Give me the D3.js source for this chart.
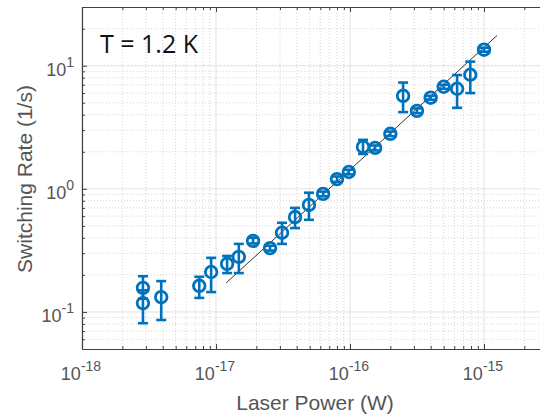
<!DOCTYPE html>
<html>
<head>
<meta charset="utf-8">
<script src="https://cdn.jsdelivr.net/npm/d3@7"></script>
<style>
  body { margin: 0; background: #fff; }
  svg { display: block; }
</style>
</head>
<body>
<svg id="chart" width="540" height="416"></svg>
<script>
// laser power (W) and switching rate (1/s), with error bar limits
var power = [2.85e-18, 2.85e-18, 3.9e-18, 7.5e-18, 9.2e-18, 1.21e-17, 1.48e-17, 1.89e-17,
             2.53e-17, 3.11e-17, 3.89e-17, 4.94e-17, 6.3e-17, 8.0e-17, 9.8e-17,
             1.25e-16, 1.54e-16, 2.0e-16, 2.49e-16, 3.16e-16, 4.0e-16, 5.0e-16,
             6.3e-16, 7.9e-16, 1.0e-15];
var rate = [0.157, 0.118, 0.132, 0.163, 0.211, 0.246, 0.28, 0.378,
            0.33, 0.44, 0.59, 0.74, 0.91, 1.2, 1.37,
            2.19, 2.15, 2.8, 5.7, 4.3, 5.5, 6.75,
            6.5, 8.45, 13.5];
var rateLow = [0.128, 0.081, 0.086, 0.13, 0.145, 0.207, 0.207, 0.36,
               0.315, 0.357, 0.48, 0.56, 0.87, 1.14, 1.31,
               1.92, 2.05, 2.68, 4.2, 4.12, 5.3, 6.5,
               4.55, 6.0, 13.0];
var rateHigh = [0.195, 0.15, 0.178, 0.193, 0.275, 0.285, 0.357, 0.4,
                0.345, 0.53, 0.70, 0.93, 0.95, 1.26, 1.43,
                2.5, 2.25, 2.92, 7.3, 4.5, 5.7, 7.0,
                8.4, 10.8, 14.0];
// linear fit (slope 1 on log-log)
var fitPower = [1.19e-17, 1.25e-15];
var fitRate = [0.172, 17.6];

var xTickExp = [-18, -17, -16, -15];
var yTickExp = [-1, 0, 1];

(function() {

    var svg = d3.select('#chart');
    var pLeft = 82, pTop = 7, pBottom = 349,
        pRight = 82 + 134 * 3.55;

    var x = d3.scaleLog().domain([1e-18, Math.pow(10, -14.45)]).range([pLeft, pRight]);
    var y = d3.scaleLog().domain([0.05, 30]).range([pBottom, pTop]);

    // minor values
    var xMinor = [], yMinor = [];
    d3.range(-18, -14).forEach(function(e) {
        d3.range(2, 10).forEach(function(m) { xMinor.push(m * Math.pow(10, e)); });
    });
    d3.range(-2, 2).forEach(function(e) {
        d3.range(2, 10).forEach(function(m) { yMinor.push(m * Math.pow(10, e)); });
    });
    xMinor = xMinor.filter(function(v) { return v > x.domain()[0] && v < x.domain()[1]; });
    yMinor = yMinor.filter(function(v) { return v > y.domain()[0] && v < y.domain()[1]; });
    var xMajor = xTickExp.map(function(e) { return Math.pow(10, e); });
    var yMajor = yTickExp.map(function(e) { return Math.pow(10, e); });

    var grid = svg.append('g');
    grid.selectAll('.xminor').data(xMinor).enter().append('line')
        .attr('x1', function(d) { return x(d); }).attr('x2', function(d) { return x(d); })
        .attr('y1', pTop).attr('y2', pBottom)
        .attr('stroke', '#d4d4d4').attr('stroke-width', 1).attr('stroke-dasharray', '1,2');
    grid.selectAll('.yminor').data(yMinor).enter().append('line')
        .attr('x1', pLeft).attr('x2', pRight)
        .attr('y1', function(d) { return y(d); }).attr('y2', function(d) { return y(d); })
        .attr('stroke', '#d4d4d4').attr('stroke-width', 1).attr('stroke-dasharray', '1,2');
    grid.selectAll('.xmajor').data(xMajor).enter().append('line')
        .attr('x1', function(d) { return x(d); }).attr('x2', function(d) { return x(d); })
        .attr('y1', pTop).attr('y2', pBottom)
        .attr('stroke', '#e2e2e2').attr('stroke-width', 1);
    grid.selectAll('.ymajor').data(yMajor).enter().append('line')
        .attr('x1', pLeft).attr('x2', pRight)
        .attr('y1', function(d) { return y(d); }).attr('y2', function(d) { return y(d); })
        .attr('stroke', '#e2e2e2').attr('stroke-width', 1);

    // axes (ticks inward)
    var axisColor = '#404040';
    var xb = svg.append('g').attr('transform', 'translate(0,' + pBottom + ')')
        .call(d3.axisBottom(x).tickValues(xMajor.concat(xMinor)).tickSizeOuter(0).tickFormat(''));
    var xt = svg.append('g').attr('transform', 'translate(0,' + pTop + ')')
        .call(d3.axisTop(x).tickValues(xMajor.concat(xMinor)).tickSizeOuter(0).tickFormat(''));
    var yl = svg.append('g').attr('transform', 'translate(' + pLeft + ',0)')
        .call(d3.axisLeft(y).tickValues(yMajor.concat(yMinor)).tickSizeOuter(0).tickFormat(''));
    [xb, xt, yl].forEach(function(g) {
        g.selectAll('path, line').attr('stroke', axisColor);
        g.select('.domain').attr('stroke-width', 1.2);
    });
    xb.selectAll('.tick line').attr('y2', function(d) { return xMajor.indexOf(d) >= 0 ? -5 : -3; });
    xt.selectAll('.tick line').attr('y2', function(d) { return xMajor.indexOf(d) >= 0 ? 5 : 3; });
    yl.selectAll('.tick line').attr('x2', function(d) { return yMajor.indexOf(d) >= 0 ? 5 : 3; });

    // tick labels
    var font = 'Liberation Sans, Arial, sans-serif';
    var xl = svg.append('g').selectAll('text').data(xTickExp).enter().append('text')
        .attr('x', function(d) { return x(Math.pow(10, d)) - 1; })
        .attr('y', 380)
        .attr('text-anchor', 'middle')
        .attr('font-family', font).attr('fill', '#555');
    xl.append('tspan').attr('font-size', 18).text('10');
    xl.append('tspan').attr('font-size', 14).attr('dy', -9).text(function(d) { return '-' + Math.abs(d); });

    var ylab = svg.append('g').selectAll('text').data(yTickExp).enter().append('text')
        .attr('x', 74)
        .attr('y', function(d) { return y(Math.pow(10, d)) + 10; })
        .attr('text-anchor', 'end')
        .attr('font-family', font).attr('fill', '#555');
    ylab.append('tspan').attr('font-size', 18).text('10');
    ylab.append('tspan').attr('font-size', 14).attr('dy', -9)
        .text(function(d) { return d < 0 ? '-' + Math.abs(d) : String(d); });

    // axis titles
    svg.append('text').attr('x', 315).attr('y', 410)
        .attr('text-anchor', 'middle').attr('font-family', font)
        .attr('font-size', 21).attr('fill', '#555').text('Laser Power (W)');
    svg.append('text')
        .attr('transform', 'translate(32,179) rotate(-90)')
        .attr('text-anchor', 'middle').attr('font-family', font)
        .attr('font-size', 21).attr('fill', '#555').text('Switching Rate (1/s)');

    svg.append('text').attr('x', 100).attr('y', 53)
        .attr('font-family', 'Open Sans, sans-serif')
        .attr('font-size', 25).attr('fill', '#111').text('T = 1.2 K');

    // fit line
    svg.append('line')
        .attr('x1', x(fitPower[0])).attr('y1', y(fitRate[0]))
        .attr('x2', x(fitPower[1])).attr('y2', y(fitRate[1]))
        .attr('stroke', '#333').attr('stroke-width', 1);

    // error bars and markers
    var blue = '#0072BD';
    var idx = d3.range(power.length);
    var pts = svg.append('g').selectAll('g').data(idx).enter().append('g');
    pts.append('line')
        .attr('x1', function(i) { return x(power[i]); }).attr('x2', function(i) { return x(power[i]); })
        .attr('y1', function(i) { return y(rateLow[i]); }).attr('y2', function(i) { return y(rateHigh[i]); })
        .attr('stroke', blue).attr('stroke-width', 2.6);
    [rateLow, rateHigh].forEach(function(arr) {
        pts.append('line')
            .attr('x1', function(i) { return x(power[i]) - 5; }).attr('x2', function(i) { return x(power[i]) + 5; })
            .attr('y1', function(i) { return y(arr[i]); }).attr('y2', function(i) { return y(arr[i]); })
            .attr('stroke', blue).attr('stroke-width', 2.6);
    });
    pts.append('circle')
        .attr('cx', function(i) { return x(power[i]); })
        .attr('cy', function(i) { return y(rate[i]); })
        .attr('r', 5.8)
        .attr('fill', 'none').attr('stroke', blue).attr('stroke-width', 2.8);
})();
</script>
</body>
</html>
